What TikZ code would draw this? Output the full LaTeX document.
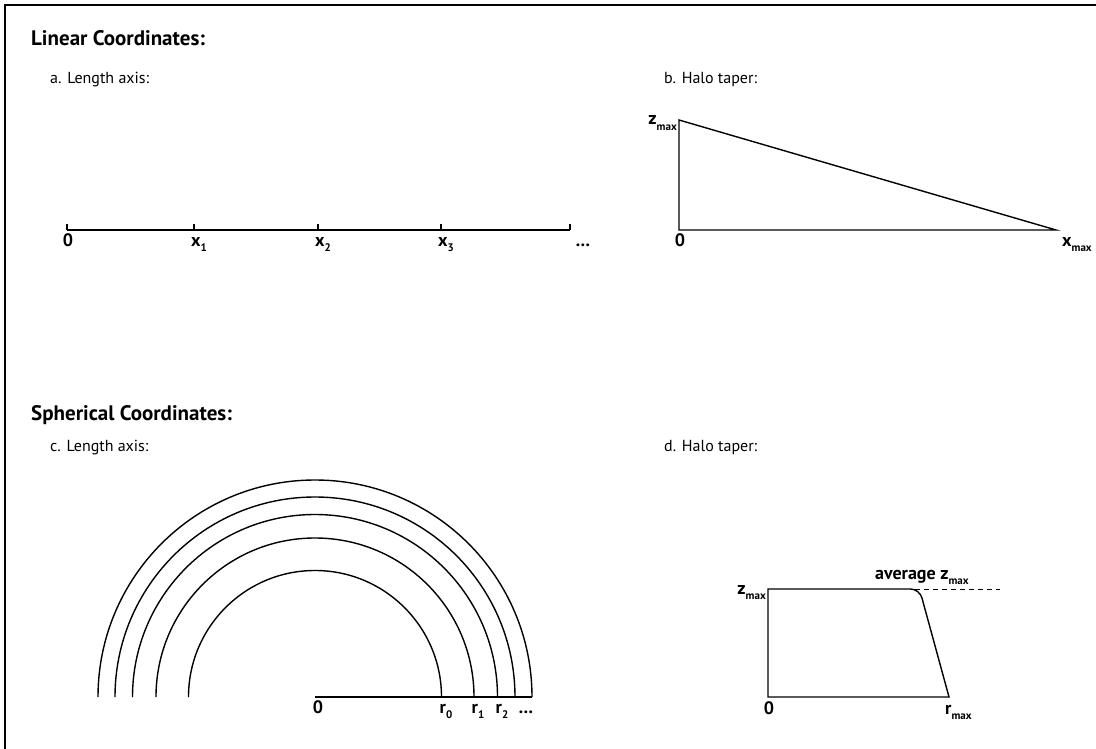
\documentclass[tikz,border=0pt]{standalone}
\usepackage{fontspec}
\setmainfont{PT Sans}
\usetikzlibrary{calc}
\newcommand{\lblsub}[2]{\textbf{#1}\raisebox{-0.6ex}{\fontsize{11}{11}\selectfont\bfseries #2}}
\begin{document}
\begin{tikzpicture}[x=1pt,y=-1pt,
  line/.style={line width=1.4pt, black},
  heading/.style={anchor=base west, inner sep=0pt, font=\fontsize{21}{21}\selectfont\bfseries},
  sublabel/.style={anchor=base west, inner sep=0pt, font=\fontsize{16}{16}\selectfont},
  axlabel/.style={anchor=base, inner sep=0pt, font=\fontsize{18}{18}\selectfont\bfseries}]
\useasboundingbox (0,0) rectangle (1096,749);
% frame
\draw[line width=1.3pt] (1096,5) -- (5,5) -- (5,749);

% headings
\node[heading] (h1) at (31,46) {Linear Coordinates:};
\node[sublabel] (sa) at (50,84) {a. Length axis:};
\node[sublabel] (sb) at (664,84) {b. Halo taper:};
\node[heading] (h2) at (31,420) {Spherical Coordinates:};
\node[sublabel] (sc) at (50,451) {c. Length axis:};
\node[sublabel] (sd) at (664,451) {d. Halo taper:};

% a. length axis
\coordinate (a0) at (67,230);
\coordinate (a1) at (194,230);
\coordinate (a2) at (318,230);
\coordinate (a3) at (441,230);
\coordinate (a4) at (570,230);
\draw[line] (a0) -- (a4);
\foreach \p in {a0,a1,a2,a3,a4} \draw[line] (\p) -- ++(0,-6);
\node[axlabel] (l0) at (68,246) {0};
\node[axlabel] (l1) at (199,246) {\lblsub{x}{1}};
\node[axlabel] (l2) at (323,246) {\lblsub{x}{2}};
\node[axlabel] (l3) at (446,246) {\lblsub{x}{3}};
\node[axlabel] (ld) at (583,246) {\ldots};

% b. halo taper (linear)
\coordinate (bt) at (679,120);
\coordinate (bo) at (679,230);
\coordinate (br) at (1056,230);
\draw[line, line join=miter] (bt) -- (bo) -- (br) -- cycle;
\node[axlabel, anchor=base east] (bz) at (677,125) {\lblsub{z}{max}};
\node[axlabel] (b0) at (680,246) {0};
\node[axlabel, anchor=base west] (bx) at (1062,246) {\lblsub{x}{max}};

% c. spherical length axis
\coordinate (c0) at (315,697);
\foreach \r in {126.5,159,182.5,200,217}
  \draw[line] ($(c0)+(-\r,0)$) arc[start angle=180, end angle=360, radius=\r];
\coordinate (ce) at (532,697);
\draw[line] (c0) -- (ce);
\node[axlabel] (c0l) at (318,713) {0};
\node[axlabel] (cr0) at (446,713) {\lblsub{r}{0}};
\node[axlabel] (cr1) at (478,713) {\lblsub{r}{1}};
\node[axlabel] (cr2) at (502,713) {\lblsub{r}{2}};
\node[axlabel] (cdots) at (526,713) {\ldots};

% d. spherical halo taper
\coordinate (d0) at (768,697);
\coordinate (dt) at (768,589);
\coordinate (dc) at (919.5,589);
\coordinate (dr) at (949,697);
\draw[line, line join=miter] (d0) -- (dt) [rounded corners=9pt]-- (dc) [sharp corners]-- (dr) -- cycle;
\coordinate (de) at (1000,589);
\draw[line width=1pt, dash pattern=on 5pt off 4pt] (915,589) -- (de);
\node[axlabel, anchor=base east] (dz) at (766,594) {\lblsub{z}{max}};
\node[axlabel, anchor=base west] (dav) at (875,579) {average \lblsub{z}{max}};
\node[axlabel] (d0l) at (769,714) {0};
\node[axlabel, anchor=base west] (drm) at (945,714) {\lblsub{r}{max}};
\end{tikzpicture}
\end{document}
